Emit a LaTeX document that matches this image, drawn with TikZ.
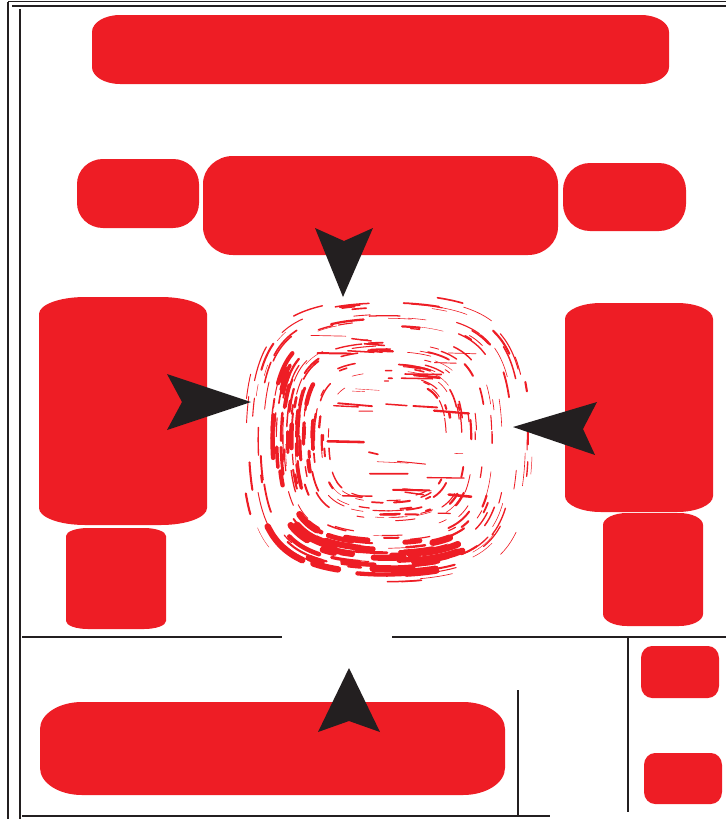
\documentclass[tikz,border=0pt]{standalone}
\usepackage{xcolor}
\usepackage{tikz}
\definecolor{PanelRed}{HTML}{EE1D25}
\definecolor{FrameInk}{HTML}{231F20}
\newcommand{\redpanel}[6]{%
  \fill[PanelRed] ({#1+#5},#2) -- ({#3-#5},#2)
    arc[start angle=270,end angle=360,x radius=#5,y radius=#6]
    -- (#3,{#4-#6})
    arc[start angle=0,end angle=90,x radius=#5,y radius=#6]
    -- ({#1+#5},#4)
    arc[start angle=90,end angle=180,x radius=#5,y radius=#6]
    -- (#1,{#2+#6})
    arc[start angle=180,end angle=270,x radius=#5,y radius=#6] -- cycle;}
\newcommand{\ringstroke}[4]{%
  \draw[PanelRed,line width=#4pt,line cap=round] plot[domain=#1:#2,samples=6,smooth]
    ({387+#3*cos(\x)/(cos(\x)*cos(\x)*cos(\x)*cos(\x)+sin(\x)*sin(\x)*sin(\x)*sin(\x))^0.16},
     {440+#3*sin(\x)/(cos(\x)*cos(\x)*cos(\x)*cos(\x)+sin(\x)*sin(\x)*sin(\x)*sin(\x))^0.16});}

\begin{document}
\begin{tikzpicture}[x=0.02cm,y=-0.02cm]
\path[use as bounding box] (0,0) rectangle (726,819);
\draw[FrameInk,line width=1.1pt] (8,1.5) -- (726,1.5);
\draw[FrameInk,line width=1.1pt] (8,1.5) -- (8,819);
\draw[FrameInk,line width=1.1pt] (12,6) -- (726,6);
\draw[FrameInk,line width=1.1pt] (20,9) -- (20,819);
\draw[FrameInk,line width=1.1pt] (22,637) -- (282,637);
\draw[FrameInk,line width=1.1pt] (392,637) -- (726,637);
\draw[FrameInk,line width=1.1pt] (22,816) -- (550,816);
\draw[FrameInk,line width=1.1pt] (518,690) -- (518,816);
\draw[FrameInk,line width=1.1pt] (628,637) -- (628,812);
\redpanel{92}{15}{669}{84}{28}{17}
\redpanel{77}{159}{199}{228}{26}{25}
\redpanel{203}{156}{558}{255}{30}{28}
\redpanel{563}{163}{686}{231}{27}{27}
\redpanel{39}{297}{207}{525}{46}{17}
\redpanel{66}{528}{166}{629}{22}{8}
\redpanel{565}{303}{713}{512}{36}{16}
\redpanel{603}{513}{703}{626}{24}{12}
\redpanel{40}{702}{505}{795}{42}{27}
\redpanel{641}{646}{719}{698}{11}{12}
\redpanel{644}{753}{722}{804}{11}{12}
\pgfmathsetseed{4}
\foreach \k in {1,...,260}{
  \pgfmathsetmacro\ringa{rnd*360}
  \pgfmathsetmacro\ringe{\ringa+3+rnd*12}
  \pgfmathsetmacro\ringr{58+rnd*88}
  \pgfmathsetmacro\ringw{0.2+rnd*1.1}
  \ringstroke{\ringa}{\ringe}{\ringr}{\ringw}
}
\foreach \k in {1,...,50}{
  \pgfmathsetmacro\ringa{55+rnd*75}
  \pgfmathsetmacro\ringe{\ringa+5+rnd*14}
  \pgfmathsetmacro\ringr{100+rnd*35}
  \pgfmathsetmacro\ringw{1+rnd*3}
  \ringstroke{\ringa}{\ringe}{\ringr}{\ringw}
}
\foreach \k in {1,...,40}{
  \pgfmathsetmacro\ringa{150+rnd*60}
  \pgfmathsetmacro\ringe{\ringa+4+rnd*12}
  \pgfmathsetmacro\ringr{72+rnd*45}
  \pgfmathsetmacro\ringw{0.6+rnd*2}
  \ringstroke{\ringa}{\ringe}{\ringr}{\ringw}
}
\foreach \k in {1,...,35}{
  \pgfmathsetmacro\streakx{305+rnd*150}
  \pgfmathsetmacro\streaky{335+rnd*180}
  \pgfmathsetmacro\streakl{8+rnd*30}
  \pgfmathsetmacro\ringw{0.2+rnd*1.3}
  \draw[PanelRed,line width=\ringw pt,line cap=round] (\streakx,\streaky) -- ++(\streakl,{rnd*3});
}
\fill[FrameInk] (315,228) -- (344,241) -- (373,228) -- (343,297) -- cycle;
\fill[FrameInk] (167,374) -- (251,402) -- (167,430) -- (182,402) -- cycle;
\fill[FrameInk] (513,427) -- (597,402) -- (583,429) -- (595,455) -- cycle;
\fill[FrameInk] (349,668) -- (380,732) -- (349,721) -- (318,732) -- cycle;
\end{tikzpicture}
\end{document}
